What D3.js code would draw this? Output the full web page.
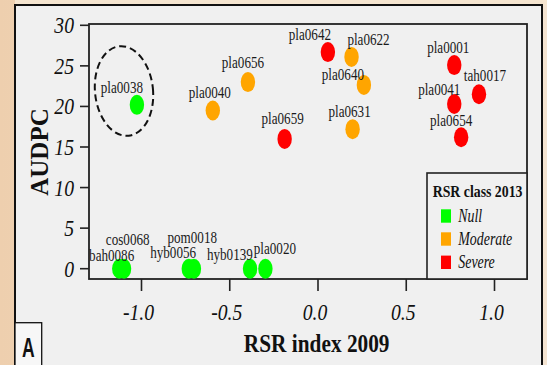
<!DOCTYPE html>
<html><head><meta charset="utf-8">
<script src="https://cdn.jsdelivr.net/npm/d3@7"></script>
<style>html,body{margin:0;padding:0;overflow:hidden;background:#f3e2cf}</style>
</head><body>
<script>
// ---- data ----
const ids      = ["pla0038","pla0040","pla0656","pla0659","pla0642","pla0622","pla0640","pla0631","pla0001","tah0017","pla0041","pla0654","bah0086","cos0068","hyb0056","pom0018","hyb0139","pla0020"];
const rsr2009  = [-1.026,-0.596,-0.397,-0.189,0.056,0.190,0.260,0.196,0.772,0.912,0.772,0.811,-1.126,-1.099,-0.732,-0.703,-0.385,-0.298];
const audpc    = [20.2,19.5,23.0,16.0,26.7,26.1,22.65,17.2,25.1,21.5,20.3,16.2,0,0,0,0,0,0];
const rsrClass = ["Null","Moderate","Moderate","Severe","Severe","Moderate","Moderate","Moderate","Severe","Severe","Severe","Severe","Null","Null","Null","Null","Null","Null"];
const classes  = ["Null","Moderate","Severe"];
const xTicks   = [-1.0,-0.5,0.0,0.5,1.0];
const yTicks   = [0,5,10,15,20,25,30];
// label layout offsets (px, relative to point)
const labelDx  = [-15,-3,-5,-2,-18,17,-21,-3,-6,6,-15,-10,-7.6,3.7,-15.7,-1.7,-20.2,9.5];
const labelDy  = [-12,-12,-14,-15,-12,-12,-5,-12,-12,-13,-9,-11,-7.3,-23.3,-10.7,-25.7,-8.3,-15];

const W=547,H=365;
const svg=d3.select("body").append("svg").attr("width",W).attr("height",H);
const defs=svg.append("defs");
const g=defs.append("linearGradient").attr("id","bg").attr("x1","0").attr("x2","1").attr("y1","0").attr("y2","0");
g.append("stop").attr("offset","0").attr("stop-color","#eecfae");
g.append("stop").attr("offset","1").attr("stop-color","#f4e4d2");
svg.append("rect").attr("width",W).attr("height",H).attr("fill","url(#bg)");
// top band lighter
svg.append("rect").attr("x",15).attr("width",W-15).attr("height",5).attr("fill","#f5e5d0");

// panel
svg.append("rect").attr("x",15).attr("y",5).attr("width",527).attr("height",372)
  .attr("fill","#f0f0f0").attr("stroke","#111").attr("stroke-width",2);

const box={l:89,r:527,t:24,b:279};
const x=d3.scaleLinear().domain([-1,1]).range([141.5,494.5]);
const y=d3.scaleLinear().domain([0,30]).range([268.7,25.3]);
const color=d3.scaleOrdinal().domain(classes).range(["#00ff00","#ffa500","#ff0000"]);

const serif="'Liberation Serif','Times New Roman',serif";
function txt(parent,xx,yy,s,opt){
  const t=parent.append("text").attr("transform",`translate(${xx},${yy}) scale(${opt.sx||1},1)`)
    .attr("font-family",opt.family||serif).attr("font-size",opt.size)
    .attr("font-style",opt.italic?"italic":"normal").attr("font-weight",opt.bold?"bold":"normal")
    .attr("text-anchor",opt.anchor||"start").attr("fill",opt.fill||"#111").text(s);
  return t;
}

// box
svg.append("rect").attr("x",box.l).attr("y",box.t).attr("width",box.r-box.l).attr("height",box.b-box.t)
  .attr("fill","none").attr("stroke","#222").attr("stroke-width",1.8);

// y axis ticks
yTicks.forEach(v=>{
  svg.append("line").attr("x1",80).attr("x2",box.l).attr("y1",y(v)).attr("y2",y(v)).attr("stroke","#222").attr("stroke-width",1.6);
  txt(svg,74,y(v)+8,String(v),{size:24,italic:true,anchor:"end",sx:0.82});
});
// x axis ticks
xTicks.forEach(v=>{
  svg.append("line").attr("x1",x(v)).attr("x2",x(v)).attr("y1",box.b).attr("y2",291).attr("stroke","#222").attr("stroke-width",1.6);
  txt(svg,x(v)-3,320,d3.format(".1f")(v).replace("−","-"),{size:24,italic:true,anchor:"middle",sx:0.82});
});

// titles
txt(svg,316.7,351.5,"RSR index 2009",{size:26,bold:true,anchor:"middle",sx:0.82});
svg.append("text").attr("transform","translate(48,152) rotate(-90)").attr("font-family",serif)
  .attr("font-size",25).attr("font-weight","bold").attr("text-anchor","middle").attr("fill","#111").text("AUDPC");

// dashed ellipse around pla0038
svg.append("ellipse").attr("cx",124).attr("cy",91).attr("rx",29).attr("ry",45)
  .attr("transform","rotate(-6,124,91)")
  .attr("fill","none").attr("stroke","#111").attr("stroke-width",2).attr("stroke-dasharray","7,4");

// points
const data=ids.map((id,i)=>({id,xv:rsr2009[i],yv:audpc[i],c:rsrClass[i],dx:labelDx[i],dy:labelDy[i]}));
svg.append("g").selectAll("ellipse").data(data).join("ellipse")
  .attr("cx",d=>x(d.xv)).attr("cy",d=>y(d.yv)).attr("rx",7.2).attr("ry",10)
  .attr("fill",d=>color(d.c));
// labels
data.forEach(d=>{
  txt(svg,x(d.xv)+d.dx,y(d.yv)+d.dy,d.id,{size:16,anchor:"middle",sx:0.82,fill:"#1a1a1a"});
});

// legend
svg.append("rect").attr("x",427).attr("y",173).attr("width",box.r-427).attr("height",box.b-173)
  .attr("fill","#f0f0f0").attr("stroke","#222").attr("stroke-width",1.6);
txt(svg,432.7,196.7,"RSR class 2013",{size:17.5,bold:true,sx:0.79});
const legY=[216,239,262.3];
classes.forEach((c,i)=>{
  svg.append("rect").attr("x",441).attr("y",legY[i]-6.7).attr("width",10).attr("height",13.4).attr("fill",color(c));
  txt(svg,458.3,legY[i]+6,c,{size:18.5,italic:true,sx:0.75});
});

// panel label A
svg.append("rect").attr("x",15).attr("y",322.7).attr("width",26.7).attr("height",60)
  .attr("fill","#f7f7f7").attr("stroke","#111").attr("stroke-width",1.3);
txt(svg,28.3,356.7,"A",{size:27,bold:true,anchor:"middle",sx:0.65,family:"'Liberation Sans',Arial,sans-serif"});
</script>
</body></html>
